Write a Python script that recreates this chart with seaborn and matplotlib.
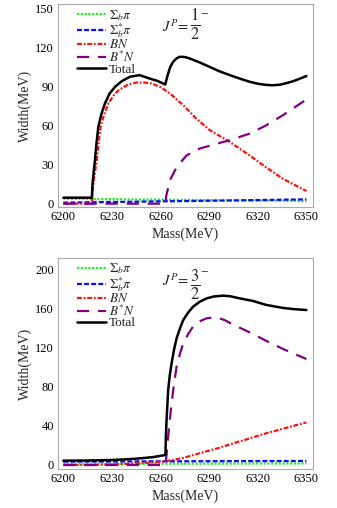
import numpy as np
import pandas as pd
import matplotlib
matplotlib.use("Agg")
import matplotlib.pyplot as plt
import seaborn as sns

# ---------------- data: J^P = 1/2^- (top) ----------------
t_sig_x = [6200, 6250, 6300, 6350]
t_sig_y = [3.8, 3.2, 2.6, 2.0]
t_sigs_x = [6200, 6250, 6300, 6350]
t_sigs_y = [0.8, 1.6, 2.4, 3.3]
t_bn_x = [6200, 6217.6, 6218, 6219, 6220.6, 6222, 6223, 6225, 6227.8, 6231, 6234, 6240,
          6245, 6250, 6254.5, 6260, 6265.8, 6274, 6282, 6290.4, 6302.7, 6315, 6325, 6335.6, 6350]
t_bn_y = [0, 0, 9, 20, 33, 49, 59, 68, 77, 83, 87, 91.5,
          93, 93, 92.3, 89.5, 84.6, 75.6, 65.4, 56.4, 47.4, 37, 28, 19, 9.7]
t_bsn_x = [6200, 6263, 6263.5, 6265.8, 6269.9, 6276, 6284.2, 6294.5, 6302.7, 6315, 6325, 6335.6, 6350]
t_bsn_y = [0, 0, 6, 18, 28, 37, 42.3, 46, 48.7, 53.8, 60, 68, 80]
t_tot_x = [6200, 6217.6, 6218, 6219, 6219.5, 6220.5, 6221.6, 6223.5, 6225.7, 6228.5, 6231.9, 6236,
           6241, 6247, 6253.4, 6258, 6262.9, 6263.6, 6264.7, 6266, 6267.8, 6270, 6271.9, 6275,
           6278, 6284, 6290.4, 6296, 6302.7, 6309, 6315, 6320, 6325, 6329, 6333.5, 6337.5, 6341.8, 6346, 6350]
t_tot_y = [4.6, 4.6, 15, 28, 33, 47, 59, 69, 77, 84.5, 89.7, 94,
           97.4, 98.7, 96, 94.3, 91.5, 95, 100, 105, 109, 111.7, 112.8, 112.6,
           111.5, 108.5, 105, 101.8, 98.7, 96, 93.6, 92.1, 91.2, 90.9, 91.3, 92.5, 94, 96, 98]

# ---------------- data: J^P = 3/2^- (bottom) ----------------
b_sig_x = [6200, 6275, 6350]
b_sig_y = [1.0, 1.3, 1.6]
b_sigs_x = [6200, 6275, 6350]
b_sigs_y = [3.4, 3.8, 4.1]
b_bn_x = [6200, 6217.6, 6235, 6250, 6263, 6274, 6284, 6295, 6305, 6315, 6325, 6337, 6350]
b_bn_y = [0, 0, 0.8, 2.0, 3.8, 7.2, 12, 17, 22.2, 27.2, 32.4, 37.8, 43.6]
b_bsn_x = [6200, 6263.1, 6264, 6264.7, 6265.7, 6266.8, 6268.3, 6269.9, 6272, 6274, 6277, 6280,
           6284, 6288.4, 6292.5, 6296.5, 6300, 6304.8, 6315, 6325, 6335.6, 6350]
b_bsn_y = [0, 0, 16, 29, 46, 63, 83, 100.7, 114, 124.6, 134, 141.6,
           147, 150.2, 151, 150.2, 148, 143.7, 135.8, 127.3, 118.8, 108.5]
b_tot_x = [6200, 6215, 6230, 6240, 6247.3, 6255, 6263, 6263.3, 6263.7, 6264.7, 6265.7, 6266.8,
           6268.3, 6269.9, 6272, 6274, 6277, 6280, 6284, 6288.4, 6293, 6298.6, 6303,
           6308.9, 6317, 6325, 6335.6, 6343, 6350]
b_tot_y = [4.4, 4.6, 5.1, 5.9, 6.8, 8.0, 10.2, 30, 46, 76.8, 92, 104,
           118, 129.7, 140, 148.5, 156, 162, 167, 170.6, 172.6, 173.4, 172.8,
           170.6, 168, 164, 160.8, 159.5, 158.7]

labels = [r"$\Sigma_b\pi$", r"$\Sigma_b^{*}\pi$", r"$BN$", r"$B^{*}N$", "Total"]
colors = ["#22ee22", "#0a0aff", "#ff1010", "#800080", "#000000"]
styles = [(0, (1.0, 0.7)), (0, (2.2, 1.0)), (0, (2.2, 0.8, 0.8, 0.8)), (0, (5.5, 4.0)), "-"]
widths = [1.6, 1.6, 1.6, 1.6, 1.8]

sns.set_style("white")
plt.rcParams["font.family"] = ["Liberation Serif", "DejaVu Serif"]
plt.rcParams["mathtext.fontset"] = "stix"

fig = plt.figure(figsize=(3.37, 5.08), dpi=100)
ax_top = fig.add_axes([0.1721, 0.5919, 0.7558, 0.4002])
ax_bot = fig.add_axes([0.1721, 0.0768, 0.7558, 0.4154])

panels = [
    (ax_top, [(t_sig_x, t_sig_y), (t_sigs_x, t_sigs_y), (t_bn_x, t_bn_y), (t_bsn_x, t_bsn_y), (t_tot_x, t_tot_y)],
     (-2.8, 153.3), [0, 30, 60, 90, 120, 150], "1", 0.888, 0.893),
    (ax_bot, [(b_sig_x, b_sig_y), (b_sigs_x, b_sigs_y), (b_bn_x, b_bn_y), (b_bsn_x, b_bsn_y), (b_tot_x, b_tot_y)],
     (-4.1, 212), [0, 40, 80, 120, 160, 200], "3", 0.892, 0.872),
]

for ax, series, ylim, yticks, num, jy, fy in panels:
    for (xs, ys), lab, col, ls, lw in zip(series, labels, colors, styles, widths):
        df = pd.DataFrame({"Mass": xs, "Width": ys})
        sns.lineplot(data=df, x="Mass", y="Width", ax=ax, color=col, linestyle=ls,
                     linewidth=lw, label=lab, estimator=None, sort=False)
    ax.set_xlim(6196.7, 6353.9)
    ax.set_ylim(*ylim)
    ax.set_xticks([6200, 6230, 6260, 6290, 6320, 6350])
    ax.set_yticks(yticks)
    ax.tick_params(direction="in", length=3, width=0.6, color="#999999",
                   labelsize=9, pad=3, labelcolor="black")
    for sp in ax.spines.values():
        sp.set_color("#aaaaaa")
        sp.set_linewidth(0.8)
    ax.set_xlabel("Mass(MeV)", fontsize=10, labelpad=3)
    ax.set_ylabel("Width(MeV)", fontsize=10, labelpad=2)
    leg = ax.legend(loc="upper left", bbox_to_anchor=(0.045, 1.02), frameon=False,
                    fontsize=9.5, handlelength=2.2, handletextpad=0.2,
                    labelspacing=-0.12, borderaxespad=0.2)
    ax.text(0.41, jy, r"$J^{P}\!=$", transform=ax.transAxes, fontsize=10.5,
            ha="left", va="center")
    ax.text(0.537, fy, r"$\frac{%s}{2}$" % num, transform=ax.transAxes, fontsize=17,
            ha="center", va="center")
    ax.text(0.557, fy + 0.07, r"$-$", transform=ax.transAxes, fontsize=8,
            ha="left", va="center")

fig.savefig("out.png", dpi=100)
